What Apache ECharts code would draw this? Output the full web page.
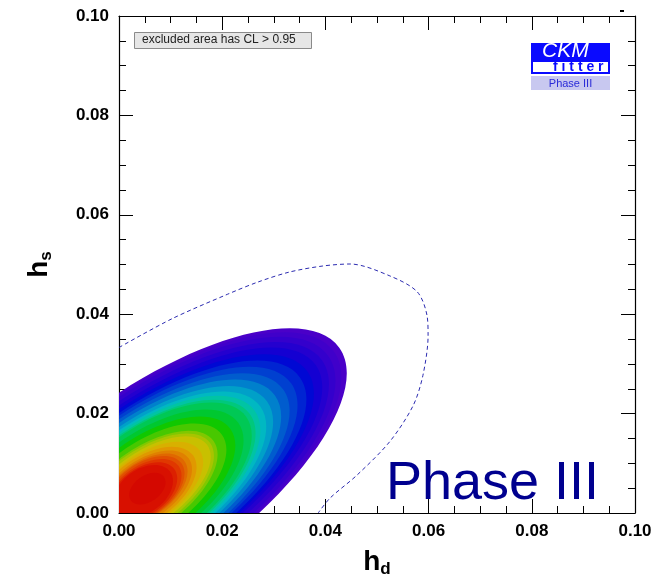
<!DOCTYPE html>
<html>
<head>
<meta charset="utf-8">
<script src="https://cdn.jsdelivr.net/npm/echarts@6/dist/echarts.min.js"></script>
<style>
  html, body { margin: 0; padding: 0; background: #fff; }
  #chart { width: 670px; height: 583px; }
</style>
</head>
<body>
<div id="chart"></div>
<script>
// Axis ranges and tick spacing
const xRange = [0, 0.1];
const yRange = [0, 0.1];
const tickStep = 0.02;

// Confidence-level contours (outermost first), each an ellipse in (h_d, h_s):
// centre, semi-major and semi-minor axis; all share the same tilt
const levelTilt = 36.6; // degrees
const ellCenterX = [0.0060, 0.0060, 0.0060, 0.0060, 0.0059, 0.0059, 0.0060, 0.0059, 0.0059, 0.0059,
                    0.0059, 0.0058, 0.0058, 0.0057, 0.0057, 0.0057, 0.0057, 0.0055, 0.0054, 0.0053,
                    0.0053, 0.0052, 0.0052, 0.0051, 0.0050, 0.0049, 0.0049, 0.0048, 0.0047, 0.0055];
const ellCenterY = [0.0060, 0.0060, 0.0060, 0.0060, 0.0059, 0.0058, 0.0057, 0.0057, 0.0056, 0.0056,
                    0.0055, 0.0054, 0.0054, 0.0053, 0.0053, 0.0052, 0.0051, 0.0050, 0.0049, 0.0049,
                    0.0049, 0.0048, 0.0048, 0.0047, 0.0047, 0.0046, 0.0045, 0.0044, 0.0044, 0.0049];
const ellMajor   = [0.0457, 0.0444, 0.0430, 0.0415, 0.0401, 0.0381, 0.0362, 0.0342, 0.0323, 0.0303,
                    0.0284, 0.0269, 0.0255, 0.0245, 0.0236, 0.0217, 0.0198, 0.0180, 0.0161, 0.0154,
                    0.0147, 0.0130, 0.0114, 0.0105, 0.0096, 0.0090, 0.0083, 0.0074, 0.0065, 0.0040];
const ellMinor   = [0.0183, 0.0180, 0.0176, 0.0169, 0.0162, 0.0157, 0.0152, 0.0147, 0.0142, 0.0136,
                    0.0130, 0.0125, 0.0121, 0.0117, 0.0114, 0.0106, 0.0098, 0.0089, 0.0080, 0.0076,
                    0.0071, 0.0067, 0.0063, 0.0058, 0.0054, 0.0052, 0.0049, 0.0046, 0.0043, 0.0026];
const bandColors = ['#4a00c8', '#4000ca', '#3400cc', '#2400cf', '#1400d2', '#0008d4', '#0024d2', '#0040d0',
                    '#005cce', '#0080cc', '#00a0c8', '#00b8c2', '#00c4a4', '#00c87c', '#00c855', '#00c830',
                    '#10c800', '#48c800', '#80c800', '#a8c400', '#c8c000', '#d8b000', '#e09800', '#e08000',
                    '#e06800', '#e05000', '#e03800', '#dc2000', '#d81000', '#d40800'];

// Dashed outline of the reference contour
const dashedContour = [
  [0, 0.0333], [0.0103, 0.0391], [0.0210, 0.0440], [0.0270, 0.0465], [0.0331, 0.0485],
  [0.0395, 0.0497], [0.0448, 0.0501], [0.0525, 0.0477], [0.0578, 0.0445], [0.0597, 0.0397],
  [0.0599, 0.0357], [0.0589, 0.0277], [0.0570, 0.0216], [0.0525, 0.0144], [0.0461, 0.0076],
  [0.0409, 0.0030], [0.0386, 0]
];

const axisFont = 'Liberation Sans, Arial, Helvetica, sans-serif';

function frameAxis(position, withLabels) {
  const horizontal = position === 'top' || position === 'bottom';
  return {
    type: 'value',
    position: position,
    min: horizontal ? xRange[0] : yRange[0],
    max: horizontal ? xRange[1] : yRange[1],
    interval: tickStep,
    axisLine: { show: true, onZero: false, lineStyle: { color: '#000', width: 1.2 } },
    axisTick: { show: true, inside: true, length: 14, lineStyle: { color: '#000', width: 1 } },
    minorTick: { show: true, splitNumber: 4, length: 7, lineStyle: { color: '#000', width: 1 } },
    splitLine: { show: false },
    minorSplitLine: { show: false },
    axisLabel: {
      show: withLabels,
      formatter: v => v.toFixed(2),
      fontFamily: axisFont,
      fontWeight: 'bold',
      fontSize: 17,
      color: '#000',
      margin: 10
    }
  };
}

const chart = echarts.init(document.getElementById('chart'), null, { renderer: 'canvas' });

const xBottom = Object.assign(frameAxis('bottom', true), {
  name: '{h|h}{d|d}',
  nameLocation: 'middle',
  nameGap: 34,
  nameTextStyle: {
    rich: {
      h: { fontFamily: axisFont, fontWeight: 'bold', fontSize: 28, color: '#000' },
      d: { fontFamily: axisFont, fontWeight: 'bold', fontSize: 17, color: '#000', padding: [14, 0, 0, 0] }
    }
  }
});
const xTop = frameAxis('top', false);
const yLeft = Object.assign(frameAxis('left', true), {
  name: '{h|h}{s|s}',
  nameLocation: 'middle',
  nameRotate: 90,
  nameGap: 64,
  nameTextStyle: {
    rich: {
      h: { fontFamily: axisFont, fontWeight: 'bold', fontSize: 28, color: '#000' },
      s: { fontFamily: axisFont, fontWeight: 'bold', fontSize: 17, color: '#000', padding: [14, 0, 0, 0] }
    }
  }
});
const yRight = frameAxis('right', false);

// One tilted ellipse per confidence level, placed through the cartesian axes
function renderLevel(params, api) {
  const i = params.dataIndex;
  const c = api.coord([ellCenterX[i], ellCenterY[i]]);
  const unit = api.size([1, 1]);
  const th = levelTilt * Math.PI / 180;
  const ux = Math.cos(th) * unit[0], uy = Math.sin(th) * unit[1];
  const vx = -Math.sin(th) * unit[0], vy = Math.cos(th) * unit[1];
  return {
    type: 'ellipse',
    shape: {
      cx: c[0], cy: c[1],
      rx: ellMajor[i] * Math.hypot(ux, uy),
      ry: ellMinor[i] * Math.hypot(vx, vy)
    },
    originX: c[0],
    originY: c[1],
    rotation: Math.atan2(uy, ux),
    style: { fill: bandColors[i], stroke: null }
  };
}

chart.setOption({
  animation: false,
  backgroundColor: '#fff',
  grid: { left: 119, right: 35, top: 16, bottom: 68, containLabel: false },
  xAxis: [xBottom, xTop],
  yAxis: [yLeft, yRight],
  series: [
    {
      type: 'custom',
      name: 'CL levels',
      coordinateSystem: 'cartesian2d',
      xAxisIndex: 0,
      yAxisIndex: 0,
      clip: true,
      silent: true,
      z: 1,
      data: ellCenterX.map((x, i) => [x, ellCenterY[i]]),
      encode: { x: 0, y: 1 },
      renderItem: renderLevel
    },
    {
      type: 'line',
      name: 'dashed contour',
      xAxisIndex: 0,
      yAxisIndex: 0,
      data: dashedContour,
      smooth: 0.3,
      showSymbol: false,
      symbol: 'none',
      clip: true,
      silent: true,
      z: 3,
      lineStyle: { color: '#2b2bb0', width: 1, type: [4, 3] }
    }
  ],
  graphic: [
    // caption box
    {
      type: 'rect', left: 134, top: 32, z: 10,
      shape: { width: 177, height: 16 },
      style: { fill: '#e6e6e6', stroke: '#8a8a8a', lineWidth: 1 }
    },
    {
      type: 'text', left: 142, top: 34, z: 11,
      style: { text: 'excluded area has CL > 0.95', fontFamily: axisFont, fontSize: 12, fill: '#222' }
    },
    // logo
    {
      type: 'rect', left: 531, top: 43, z: 10,
      shape: { width: 79, height: 31 },
      style: { fill: '#0a0aff' }
    },
    {
      type: 'rect', left: 533, top: 62, z: 11,
      shape: { width: 75, height: 10 },
      style: { fill: '#ffffff' }
    },
    {
      type: 'text', left: 542, top: 41, z: 12,
      style: { text: 'CKM', fontFamily: axisFont, fontStyle: 'italic', fontSize: 21, fill: '#ffffff' }
    },
    {
      type: 'text', left: 553, top: 60, z: 12,
      style: { text: 'f i t t e r', fontFamily: axisFont, fontWeight: 'bold', fontSize: 14, fill: '#0a0aff' }
    },
    {
      type: 'rect', left: 531, top: 76, z: 10,
      shape: { width: 79, height: 14 },
      style: { fill: '#c8c8f0' }
    },
    {
      type: 'text', x: 570.5, y: 83.5, z: 12,
      style: { text: 'Phase III', fontFamily: axisFont, fontSize: 11, fill: '#2a2ad8', align: 'center', verticalAlign: 'middle' }
    },
    // large phase label
    {
      type: 'text', x: 386, y: 457, z: 12,
      style: { text: 'Phase III', fontFamily: axisFont, fontSize: 54, fill: '#00008f', align: 'left', verticalAlign: 'top' }
    },
    {
      type: 'rect', left: 620, top: 10, z: 10,
      shape: { width: 4, height: 2 },
      style: { fill: '#000' }
    }
  ]
});
</script>
</body>
</html>
